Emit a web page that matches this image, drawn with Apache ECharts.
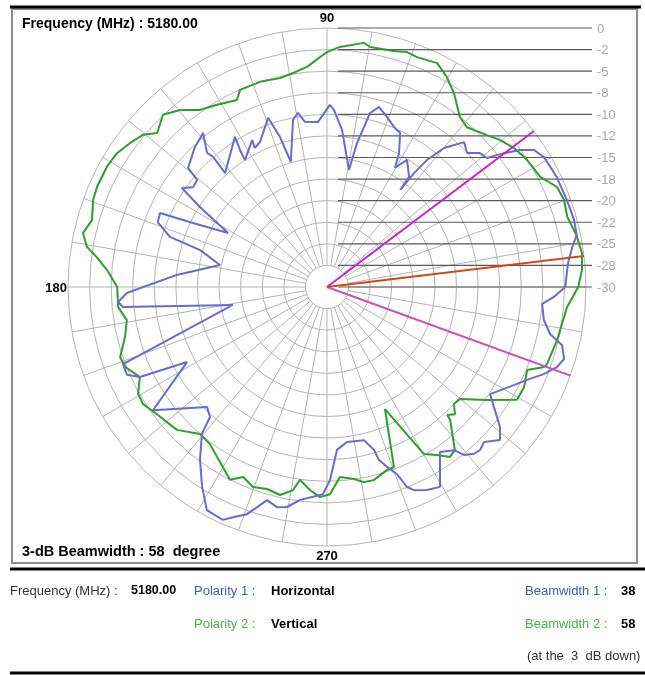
<!DOCTYPE html>
<html><head><meta charset="utf-8">
<script src="https://cdn.jsdelivr.net/npm/echarts@6/dist/echarts.min.js"></script>
<style>html,body{margin:0;padding:0;background:#fff}#c{width:645px;height:675px}</style>
</head><body><div id="c"></div>
<script>
// ---- data ----
const angleTickLabels = ['90', '180', '270'];
const angleTickValues = [90, 180, 270];
const ringValues = [0, -2.5, -5, -7.5, -10, -12.5, -15, -17.5, -20, -22.5, -25, -27.5, -30];
const ringLabels = ['0', '-2', '-5', '-8', '-10', '-12', '-15', '-18', '-20', '-22', '-25', '-28', '-30'];

// Polarity 2 (Vertical) - green
const greenAngles = [0,3.8,7.6,11.8,16.3,20.2,23.5,27.3,32.4,36.6,40.4,43.5,48.8,52.0,56.8,60.3,63.8,68.6,71.2,74.2,79.8,81.4,86.9,90,91.7,95.2,99.0,102.7,108.1,113.8,115.7,121.1,125.7,129.7,133.6,137.8,140.4,143.8,147.5,151.4,156.5,159.6,164.1,167.5,170.5,172.6,175.6,180,185.5,189.4,193.9,198.7,201.6,205.7,209.5,212.5,216.8,223.6,229.2,233.3,240.0,243.3,246.2,249.7,253.5,257.3,260.5,262.0,265.2,268.1,270.8,273.9,278.0,280.7,283.7,288.2,290.4,295.4,300.1,303.2,305.9,308.1,312.8,313.2,315.2,317.3,319.9,324.8,329.3,333.1,337.5,339.8,340.7,347.0,355.2,360];
const greenDb = [-0.9,-0.4,-0.2,-0.5,-1.0,-0.75,-0.95,-2.2,-2.55,-3.0,-3.7,-4.45,-5.4,-5.0,-3.15,-2.0,-1.1,-1.4,-1.25,-1.6,-1.75,-1.4,-2.15,-2.8,-3.35,-4.4,-4.9,-5.2,-5.0,-5.05,-5.95,-5.35,-4.75,-3.35,-2.45,-3.45,-2.35,-1.75,-1.15,-0.95,-0.95,-1.1,-1.7,-1.05,-1.8,-3.1,-4.45,-5.7,-5.7,-6.5,-5.9,-4.7,-4.85,-5.95,-4.85,-4.75,-5.4,-6.0,-7.5,-7.3,-5.9,-5.0,-5.95,-5.3,-5.6,-5.3,-6.15,-7.45,-6.4,-5.65,-6.0,-7.95,-7.55,-7.0,-7.0,-7.7,-7.75,-14.35,-7.65,-6.75,-5.7,-6.0,-9.0,-9.65,-9.1,-10.0,-9.85,-7.3,-4.4,-4.4,-4.9,-3.2,-3.0,-2.65,-2.1,-0.9];

// Polarity 1 (Horizontal) - blue
const blueAngles = [0,5.7,9.7,11.7,15.2,19.9,25.6,30.9,33.5,35.4,37.1,38.9,41.2,43.7,46.6,49.9,51.8,52.6,53.0,53.3,57.8,60.3,61.7,64.6,67.3,70.6,73.9,76.1,78.2,79.4,84.5,87.7,89.1,93.1,97.6,99.5,101.5,106.1,107.4,109.2,114.8,117.4,117.0,122.9,122.4,121.5,131.8,131.2,131.8,128.8,133.3,139.4,140.5,143.3,145.7,147.8,151.4,154.5,156.1,159.0,162.3,163.8,168.4,175.4,181.7,184.1,185.6,190.8,200.7,203.7,205.7,208.2,215.3,225.0,228.0,229.6,233.7,238.0,241.7,245.9,247.8,250.6,252.4,254.3,257.2,259.7,262.8,268.9,270.9,273.5,277.4,283.6,286.1,286.7,288.4,290.5,291.8,293.2,296.2,299.5,304.4,307.9,309.2,311.4,313.2,315.4,318.5,321.0,324.3,326.7,332.3,335.1,338.2,340.8,343.1,346.1,348.1,351.4,355.5,357.5,360];
const blueDb = [-2.4,-1.95,-1.1,-0.45,-0.35,-0.45,-0.5,-0.7,-1.25,-2.6,-4.3,-6.2,-6.45,-7.55,-6.9,-8.95,-11.3,-13.4,-15.9,-14.1,-12.6,-14.1,-12.4,-10.25,-9.9,-9.1,-8.3,-9.25,-12.95,-16.2,-11.75,-9.5,-8.9,-10.85,-10.7,-9.55,-10.25,-14.9,-11.8,-9.25,-11.5,-11.85,-10.9,-12.5,-11.2,-9.6,-12.3,-9.95,-9.15,-7.1,-7.7,-8.8,-10.5,-10.65,-9.65,-12.6,-16.95,-12.8,-8.85,-9.0,-10.9,-14.7,-17.35,-12.55,-6.8,-5.75,-6.25,-18.9,-4.75,-4.7,-5.95,-11.6,-5.3,-10.35,-9.75,-7.65,-5.15,-2.7,-0.65,-0.45,-1.2,-2.1,-3.25,-4.35,-3.85,-4.1,-5.15,-6.0,-7.65,-11.1,-11.9,-11.75,-10.35,-9.1,-8.05,-6.85,-5.05,-4.4,-3.8,-3.4,-6.85,-6.05,-4.9,-4.25,-4.1,-4.45,-3.25,-4.2,-6.2,-7.4,-5.55,-4.45,-2.9,-1.8,-1.3,-1.95,-3.6,-4.6,-5.0,-3.7,-2.4];

// beam marker lines (angle, end value in dB)
const beamEdgeAngles = [37, 340];
const beamEdgeEnd = 0.6;
const peakAngle = 6.9;
const peakEnd = 2.8;

// ---- chart ----
const FONT = 'Arial, "Liberation Sans", sans-serif';
const chart = echarts.init(document.getElementById('c'), null, {renderer: 'canvas'});
const zip = (a, d) => a.map((ang, i) => [d[i], ang]);
const CX = 327, CY = 287, R = 259;

chart.setOption({
  animation: false,
  backgroundColor: '#fff',
  polar: [
    {center: [CX, CY], radius: R},
    {center: [CX, CY], radius: [21.5, R]}
  ],
  angleAxis: [
    {polarIndex: 0, type: 'value', min: 0, max: 360, interval: 10, startAngle: 0, clockwise: false,
     axisLine: {show: false}, axisTick: {show: false}, axisLabel: {show: false}, splitLine: {show: false}},
    {polarIndex: 1, type: 'value', min: 0, max: 360, interval: 10, startAngle: 0, clockwise: false,
     axisLine: {show: false}, axisTick: {show: false}, axisLabel: {show: false},
     splitLine: {show: true, lineStyle: {color: '#b4b4b4', width: 1}}}
  ],
  radiusAxis: [
    {polarIndex: 0, type: 'value', min: -30, max: 0, interval: 2.5,
     axisLine: {show: false}, axisTick: {show: false}, axisLabel: {show: false},
     splitLine: {show: true, lineStyle: {color: '#b4b4b4', width: 1}}},
    {polarIndex: 1, type: 'value', min: -30, max: 0, interval: 2.5,
     axisLine: {show: false}, axisTick: {show: false}, axisLabel: {show: false}, splitLine: {show: false}}
  ],
  series: [
    {type: 'line', coordinateSystem: 'polar', polarIndex: 0, data: zip(greenAngles, greenDb),
     showSymbol: false, lineStyle: {color: '#2ca02c', width: 2}, z: 3},
    {type: 'line', coordinateSystem: 'polar', polarIndex: 0, data: zip(blueAngles, blueDb),
     showSymbol: false, lineStyle: {color: '#6a6ad2', width: 2}, z: 4},
    {type: 'line', coordinateSystem: 'polar', polarIndex: 0, clip: false,
     data: [[-30, beamEdgeAngles[0]], [beamEdgeEnd, beamEdgeAngles[0]]],
     showSymbol: false, lineStyle: {color: '#cc1fcc', width: 2}, z: 5},
    {type: 'line', coordinateSystem: 'polar', polarIndex: 0, clip: false,
     data: [[-30, beamEdgeAngles[1]], [beamEdgeEnd, beamEdgeAngles[1]]],
     showSymbol: false, lineStyle: {color: '#cc4fc0', width: 2}, z: 5},
    {type: 'line', coordinateSystem: 'polar', polarIndex: 0, clip: false,
     data: [[-30, peakAngle], [peakEnd, peakAngle]],
     showSymbol: false, lineStyle: {color: '#cc4a1a', width: 2}, z: 6}
  ]
});

function px(v, ang) {
  try {
    const p = chart.convertToPixel({polarIndex: 0}, [v, ang]);
    if (p && isFinite(p[0]) && isFinite(p[1])) return p;
  } catch (e) {}
  const rr = R * (v + 30) / 30, a = ang * Math.PI / 180;
  return [CX + rr * Math.cos(a), CY - rr * Math.sin(a)];
}

const g = [];
const txt = (text, x, y, opt) => g.push({type: 'text', z: 100, style: Object.assign({
  text, x, y, fill: '#000', fontSize: 13, fontFamily: FONT, align: 'left', verticalAlign: 'middle'}, opt || {})});
const line = (x1, y1, x2, y2, color, w, z) => g.push({type: 'line', z: z || 1, silent: true,
  shape: {x1, y1, x2, y2}, style: {stroke: color, lineWidth: w}});

// frame and separators
g.push({type: 'rect', z: 0, shape: {x: 12, y: 9, width: 625, height: 554},
  style: {fill: 'none', stroke: '#8c8c8c', lineWidth: 2}});
line(10, 7, 641, 7, '#000', 3, 50);
line(10, 569, 645, 569, '#000', 3, 50);
line(10, 673, 645, 673, '#000', 3, 50);

// dB scale lines and labels on the right
ringValues.forEach((v, i) => {
  const p = px(v, 90);
  line(338, p[1], 592, p[1], '#5a5a5a', 1.2, 2);
  txt(ringLabels[i], 597, p[1] + 1, {fill: '#a8a8a8', fontSize: 13});
});

// angle labels
const angLabelPos = {90: [0, -10], 180: [-1, 1], 270: [0, 10]};
angleTickValues.forEach((a, i) => {
  const p = px(0, a);
  const o = angLabelPos[a];
  txt(angleTickLabels[i], p[0] + o[0], p[1] + o[1], {fontWeight: 'bold', fontSize: 13, align: a === 180 ? 'right' : 'center'});
});

txt('Frequency (MHz) : 5180.00', 22, 24, {fontWeight: 'bold', fontSize: 14});
txt('3-dB Beamwidth : 58  degree', 22, 552, {fontWeight: 'bold', fontSize: 14.5});

// bottom info
const BLUE = '#3d5db8', GREEN = '#45b845', GREY = '#333';
txt('Frequency (MHz) :', 10, 591, {fill: GREY});
txt('5180.00', 131, 591, {fontWeight: 'bold', fontSize: 12.5});
txt('Polarity 1 :', 194, 591, {fill: BLUE});
txt('Horizontal', 271, 591, {fontWeight: 'bold'});
txt('Beamwidth 1 :', 525, 591, {fill: BLUE});
txt('38', 621, 591, {fontWeight: 'bold'});
txt('Polarity 2 :', 194, 624, {fill: GREEN});
txt('Vertical', 271, 624, {fontWeight: 'bold'});
txt('Beamwidth 2 :', 525, 624, {fill: GREEN});
txt('58', 621, 624, {fontWeight: 'bold'});
txt('(at the  3  dB down)', 527, 656, {fill: GREY});

chart.setOption({graphic: g});
</script>
</body></html>
